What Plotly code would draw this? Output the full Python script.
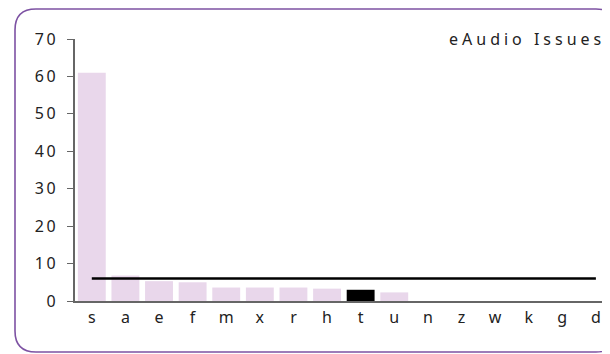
import plotly.graph_objects as go

categories = ["s", "a", "e", "f", "m", "x", "r", "h", "t", "u", "n", "z", "w", "k", "g", "d"]
values = [61.0, 6.8, 5.3, 5.0, 3.6, 3.6, 3.6, 3.3, 3.0, 2.3, 0, 0, 0, 0, 0, 0]
highlight = "t"
avg_value = 6.0
avg_line = [avg_value] * len(categories)
title_text = "eAudio Issues"
y_ticks = [0, 10, 20, 30, 40, 50, 60, 70]
y_tick_labels = ["0", "10", "20", "30", "40", "50", "60", "70"]

# page has an 8px body margin; figure coordinates are offset by it
W, H = 602, 346
L, R, T, B = 67, 0, 31, 53
pw, ph = W - L - R, H - T - B

bar_colors = ["#000000" if c == highlight else "#e9d7eb" for c in categories]
FONT = "Noto Sans"

def spaced(s, px):
    return f"<span style='letter-spacing:{px}px'>{s}</span>"

fig = go.Figure()
fig.add_trace(go.Bar(x=categories, y=values, marker=dict(color=bar_colors, line=dict(width=0)),
                     hoverinfo="x+y"))
fig.add_trace(go.Scatter(x=categories, y=avg_line, mode="lines",
                         line=dict(color="#000000", width=2.6), hoverinfo="y"))

def px2paper(x, y):
    return ((x - L) / pw, (H - B - y) / ph)

def P(x, y):
    a, b = px2paper(x, y)
    return f"{a:.5f},{b:.5f}"

# rounded border (right side runs past the visible page edge)
x0, y0, x1, y1, r = 7, 1, 609, 344, 21
path = (f"M {P(x0 + r, y0)} L {P(x1 - r, y0)} Q {P(x1, y0)} {P(x1, y0 + r)} "
        f"L {P(x1, y1 - r)} Q {P(x1, y1)} {P(x1 - r, y1)} "
        f"L {P(x0 + r, y1)} Q {P(x0, y1)} {P(x0, y1 - r)} "
        f"L {P(x0, y0 + r)} Q {P(x0, y0)} {P(x0 + r, y0)} Z")
fig.add_shape(type="path", path=path, xref="paper", yref="paper",
              line=dict(color="#7d52a3", width=1.6), layer="below")

tx, ty = px2paper(599, 31)
fig.add_annotation(text=spaced(title_text, 4), x=tx, y=ty, xref="paper", yref="paper",
                   xanchor="right", yanchor="middle", showarrow=False,
                   font=dict(size=16, color="#222222", family=FONT))

fig.update_layout(
    width=W, height=H, margin=dict(l=L, r=R, t=T, b=B),
    paper_bgcolor="white", plot_bgcolor="white",
    showlegend=False, bargap=0.17,
    font=dict(family=FONT, size=16, color="#222222"),
    xaxis=dict(range=[-0.5, 15.42], showline=True, linecolor="#666666", linewidth=1.5,
               ticks="", showgrid=False, zeroline=False, ticklabelstandoff=1,
               tickfont=dict(size=16)),
    yaxis=dict(range=[0, 70], tickvals=y_ticks,
               ticktext=[spaced(t, 2.5) for t in y_tick_labels],
               showline=True, linecolor="#666666",
               linewidth=1.5, ticks="outside", ticklen=6, tickcolor="#666666",
               tickwidth=1.2, showgrid=False, zeroline=False, ticklabelstandoff=6,
               tickfont=dict(size=16)),
)

fig.write_html("out.html")
